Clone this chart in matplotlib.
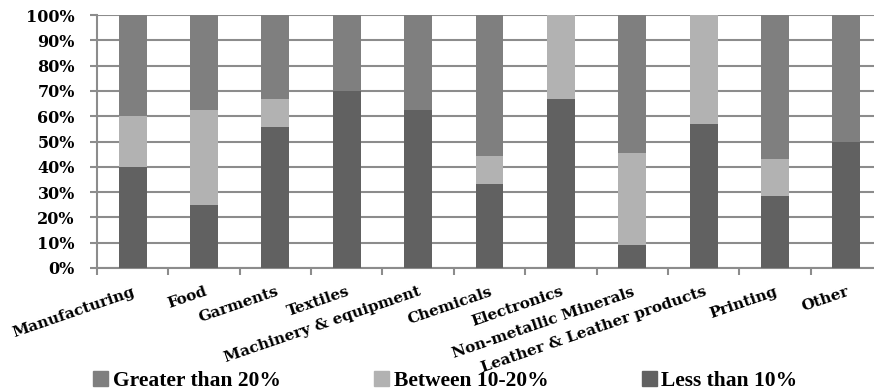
import numpy as np
import matplotlib.pyplot as plt
from matplotlib.patches import Patch
from matplotlib.ticker import FuncFormatter

categories = ["Manufacturing", "Food", "Garments", "Textiles",
              "Machinery & equipment", "Chemicals", "Electronics",
              "Non-metallic Minerals", "Leather & Leather products",
              "Printing", "Other"]
less_10 = [40.0, 25.0, 55.6, 70.0, 62.5, 33.3, 66.7, 9.1, 57.1, 28.6, 50.0]
between_10_20 = [20.0, 37.5, 11.1, 0.0, 0.0, 11.1, 33.3, 36.4, 42.9, 14.3, 0.0]
greater_20 = [40.0, 37.5, 33.3, 30.0, 37.5, 55.6, 0.0, 54.5, 0.0, 57.1, 50.0]

c_less = "#616161"
c_betw = "#b2b2b2"
c_great = "#7f7f7f"

fig = plt.figure(figsize=(8.74, 3.92), dpi=100)
ax = fig.add_axes([97/874, 1 - 268/392, 785/874, (268 - 15)/392])

x = np.arange(len(categories))
w = 0.39
lo = np.array(less_10)
mid = np.array(between_10_20)
hi = np.array(greater_20)
ax.bar(x, lo, w, color=c_less, zorder=3)
ax.bar(x, mid, w, bottom=lo, color=c_betw, zorder=3)
ax.bar(x, hi, w, bottom=lo + mid, color=c_great, zorder=3)

ax.set_xlim(-0.5, len(categories) - 0.5)
ax.set_ylim(0, 100)
ax.set_yticks(np.arange(0, 101, 10))
ax.yaxis.set_major_formatter(FuncFormatter(lambda v, p: f"{int(v)}%"))
ax.grid(axis="y", color="#8c8c8c", linewidth=1.5, zorder=0)
ax.set_axisbelow(True)

for s in ["top", "right"]:
    ax.spines[s].set_visible(False)
for s in ["left", "bottom"]:
    ax.spines[s].set_color("#8c8c8c")
    ax.spines[s].set_linewidth(1.5)

ax.tick_params(axis="y", length=5, width=1.5, color="#8c8c8c", pad=11)
for t in ax.get_yticklabels():
    t.set_fontfamily("DejaVu Serif")
    t.set_fontweight("bold")
    t.set_fontsize(11.5)

# category labels at centres, tick marks at boundaries
ax.set_xticks(x)
ax.set_xticks(np.arange(-0.5, len(categories)), minor=True)
ax.tick_params(axis="x", which="major", length=0, pad=12)
ax.tick_params(axis="x", which="minor", length=5, width=1.5, color="#8c8c8c")
ax.set_xticklabels(categories, rotation=19, ha="right", va="top",
                   rotation_mode="anchor", fontfamily="DejaVu Serif",
                   fontweight="bold", fontsize=11)

handles = [Patch(color=c_great), Patch(color=c_betw), Patch(color=c_less)]
labels = ["Greater than 20%", "Between 10-20%", "Less than 10%"]
fig.legend(handles, labels, loc="lower left", bbox_to_anchor=(74/874, -0.048),
           ncol=3, frameon=False, handlelength=0.7, handleheight=0.7,
           handletextpad=0.2, columnspacing=4.35,
           prop={"family": "Liberation Serif", "weight": "bold", "size": 15.5})

fig.savefig("out.png", dpi=100)
